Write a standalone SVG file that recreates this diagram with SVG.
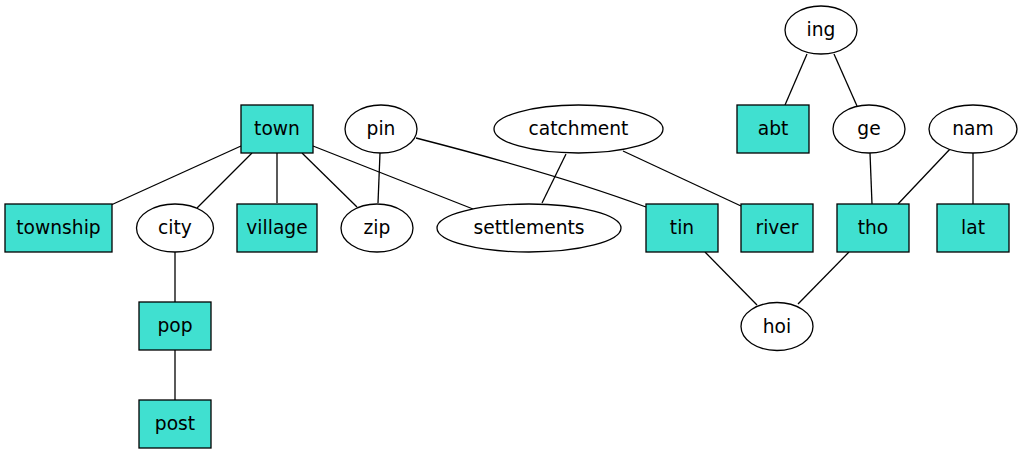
<svg xmlns="http://www.w3.org/2000/svg" width="1023" height="453" viewBox="0 0 1023 453">
<style>
.bg{fill:#ffffff}
.box{fill:#40e0d0;stroke:#000;stroke-width:1.3}
.ell{fill:#ffffff;stroke:#000;stroke-width:1.3}
.edge{fill:none;stroke:#000;stroke-width:1.3}
text{font-family:"DejaVu Sans","Liberation Sans",sans-serif;font-size:18.67px;fill:#000;text-anchor:middle}
</style>
<rect class="bg" x="0" y="0" width="1023" height="453"/>
<g id="edges">
<path class="edge" d="M807,54 L785,105"/>
<path class="edge" d="M834,54 L857,106"/>
<path class="edge" d="M870,153 L872,204"/>
<path class="edge" d="M951,148 L898,204"/>
<path class="edge" d="M973,153 L973,204"/>
<path class="edge" d="M241,146 L111,205"/>
<path class="edge" d="M252,153 L197,208"/>
<path class="edge" d="M277,153 L277,203"/>
<path class="edge" d="M302,153 L357,207"/>
<path class="edge" d="M313,146 Q400,180 473,209"/>
<path class="edge" d="M380,153 L378,203"/>
<path class="edge" d="M416,138 Q560,175 646,207"/>
<path class="edge" d="M566,154 L542,203"/>
<path class="edge" d="M623,151 L741,206"/>
<path class="edge" d="M705,252 L757,305"/>
<path class="edge" d="M849,252 L798,304"/>
<path class="edge" d="M175,252 L175,302"/>
<path class="edge" d="M175,350 L175,400"/>
</g>
<g id="node-ing"><ellipse class="ell" cx="821" cy="30" rx="36" ry="24"/><text x="821" y="36">ing</text></g>
<g id="node-abt"><rect class="box" x="737" y="105" width="72" height="48"/><text x="773" y="135">abt</text></g>
<g id="node-ge"><ellipse class="ell" cx="869" cy="129" rx="36" ry="24"/><text x="869" y="135">ge</text></g>
<g id="node-nam"><ellipse class="ell" cx="973" cy="129" rx="44" ry="24"/><text x="973" y="135">nam</text></g>
<g id="node-town"><rect class="box" x="241" y="105" width="72" height="48"/><text x="277" y="135">town</text></g>
<g id="node-pin"><ellipse class="ell" cx="381" cy="129" rx="36" ry="24"/><text x="381" y="135">pin</text></g>
<g id="node-catchment"><ellipse class="ell" cx="578.5" cy="129" rx="84.5" ry="24"/><text x="578.5" y="135">catchment</text></g>
<g id="node-township"><rect class="box" x="5" y="204" width="107" height="48"/><text x="58.5" y="234">township</text></g>
<g id="node-city"><ellipse class="ell" cx="175" cy="228" rx="38.5" ry="24"/><text x="175" y="234">city</text></g>
<g id="node-village"><rect class="box" x="237" y="204" width="80" height="48"/><text x="277" y="234">village</text></g>
<g id="node-zip"><ellipse class="ell" cx="377" cy="228" rx="36" ry="24"/><text x="377" y="234">zip</text></g>
<g id="node-settlements"><ellipse class="ell" cx="529" cy="228" rx="92" ry="24"/><text x="529" y="234">settlements</text></g>
<g id="node-tin"><rect class="box" x="646" y="204" width="72" height="48"/><text x="682" y="234">tin</text></g>
<g id="node-river"><rect class="box" x="741" y="204" width="72" height="48"/><text x="777" y="234">river</text></g>
<g id="node-tho"><rect class="box" x="837" y="204" width="72" height="48"/><text x="873" y="234">tho</text></g>
<g id="node-lat"><rect class="box" x="937" y="204" width="72" height="48"/><text x="973" y="234">lat</text></g>
<g id="node-hoi"><ellipse class="ell" cx="777" cy="326.5" rx="36" ry="24"/><text x="777" y="332.5">hoi</text></g>
<g id="node-pop"><rect class="box" x="139" y="302" width="72" height="48"/><text x="175" y="332">pop</text></g>
<g id="node-post"><rect class="box" x="139" y="400" width="72" height="48"/><text x="175" y="430">post</text></g>
</svg>
